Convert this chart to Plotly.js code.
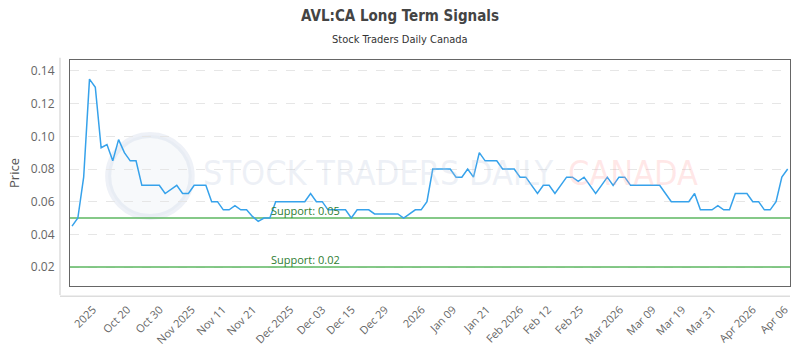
<!DOCTYPE html>
<html>
<head>
<meta charset="utf-8">
<script src="https://cdn.plot.ly/plotly-3.0.1.min.js"></script>
<style>
html,body{margin:0;padding:0;background:#fff;}
#chart{width:800px;height:350px;}
</style>
</head>
<body>
<div id="chart"></div>
<script>
// Price series (one value per trading session)
const prices = [
  0.045, 0.05, 0.075, 0.135, 0.13, 0.093, 0.095, 0.085, 0.098, 0.09,
  0.085, 0.085, 0.07, 0.07, 0.07, 0.07, 0.065, 0.0675, 0.07, 0.065,
  0.065, 0.07, 0.07, 0.07, 0.06, 0.06, 0.055, 0.055, 0.0575, 0.055,
  0.055, 0.051, 0.048, 0.05, 0.05, 0.06, 0.06, 0.06, 0.06, 0.06,
  0.06, 0.065, 0.06, 0.06, 0.055, 0.055, 0.055, 0.055, 0.05, 0.055,
  0.055, 0.055, 0.0525, 0.0525, 0.0525, 0.0525, 0.0525, 0.05, 0.0525, 0.055,
  0.055, 0.06, 0.08, 0.08, 0.08, 0.08, 0.075, 0.075, 0.08, 0.075,
  0.09, 0.085, 0.085, 0.085, 0.08, 0.08, 0.08, 0.075, 0.075, 0.07,
  0.065, 0.07, 0.07, 0.065, 0.07, 0.075, 0.075, 0.0725, 0.075, 0.07,
  0.065, 0.07, 0.075, 0.07, 0.075, 0.075, 0.07, 0.07, 0.07, 0.07,
  0.07, 0.07, 0.065, 0.06, 0.06, 0.06, 0.06, 0.065, 0.055, 0.055,
  0.055, 0.0575, 0.055, 0.055, 0.065, 0.065, 0.065, 0.06, 0.06, 0.055,
  0.055, 0.06, 0.075, 0.08
];
const sessions = prices.map((_, i) => i);

// Tick labels and their session positions
const tickLabels = ["2025","Oct 20","Oct 30","Nov 2025","Nov 11","Nov 21","Dec 2025","Dec 03","Dec 15","Dec 29","2026","Jan 09","Jan 21","Feb 2026","Feb 12","Feb 25","Mar 2026","Mar 09","Mar 19","Mar 31","Apr 2026","Apr 06"];
const tickPositions = [3.6, 9.5, 15.1, 20.6, 25.9, 31.1, 37.5, 43, 48.1, 53.8, 60.1, 65.5, 71.3, 77, 81.8, 87.3, 94.2, 99.8, 104.9, 110.1, 117, 122.5];

// Support levels
const supportLevels = [0.05, 0.02];
const supportLabels = ["Support: 0.05", "Support: 0.02"];

const yTicks = [0.02, 0.04, 0.06, 0.08, 0.10, 0.12, 0.14];
const yTickText = ["0.02", "0.04", "0.06", "0.08", "0.10", "0.12", "0.14"];

const condensed = "Liberation Sans Narrow, DejaVu Sans Condensed, sans-serif";
const tickFont = {family: "Open Sans, sans-serif", size: 11, color: "#666"};

const traces = [];
supportLevels.forEach((lv) => {
  traces.push({
    x: [sessions[0] - 0.35, sessions[sessions.length - 1] + 0.4],
    y: [lv, lv],
    mode: "lines",
    line: {color: "rgba(102,187,106,0.8)", width: 2},
    hoverinfo: "skip",
    showlegend: false
  });
});
traces.push({
  x: sessions,
  y: prices,
  mode: "lines",
  line: {color: "#36a2eb", width: 1.5},
  showlegend: false
});

const annotations = [
  {text: "Stock Traders Daily Canada", xref: "paper", yref: "paper", x: 0.4583, y: 1, yshift: 21, xanchor: "center", yanchor: "middle", showarrow: false,
   font: {family: condensed, size: 11, color: "#333"}},
  {text: "STOCK TRADERS DAILY", xref: "x", yref: "y", x: 52.6, y: 0.0773, xanchor: "center", yanchor: "middle", showarrow: false,
   font: {family: condensed, size: 34, color: "rgba(185,198,220,0.25)"}},
  {text: "CANADA", xref: "x", yref: "y", x: 96.4, y: 0.0773, xanchor: "center", yanchor: "middle", showarrow: false,
   font: {family: condensed, size: 34, color: "rgba(255,160,160,0.25)"}}
];
supportLevels.forEach((lv, k) => {
  annotations.push({
    text: supportLabels[k], xref: "x", yref: "y", x: 33.8, y: lv, xanchor: "left", yanchor: "bottom", yshift: -2,
    showarrow: false, font: {family: "Open Sans, sans-serif", size: 11, color: "#2e7d32"}
  });
});

const layout = {
  width: 800, height: 350,
  margin: {l: 70, r: 10, t: 60, b: 64},
  paper_bgcolor: "#fff", plot_bgcolor: "#fff",
  title: {text: "AVL:CA Long Term Signals", x: 0.5, xanchor: "center", y: 0.955, yanchor: "middle",
          font: {family: condensed, size: 15, color: "#444", weight: "bold"}},
  xaxis: {
    range: [-0.35, 123.4],
    tickmode: "array", tickvals: tickPositions, ticktext: tickLabels,
    tickangle: -45, tickfont: tickFont,
    ticks: "outside", ticklen: 12, tickcolor: "rgba(0,0,0,0)",
    showgrid: false, zeroline: false,
    showline: true, linecolor: "#666", linewidth: 1, mirror: true
  },
  yaxis: {
    range: [0.0084, 0.1467],
    tickmode: "array", tickvals: yTicks, ticktext: yTickText,
    tickfont: {family: "Open Sans, sans-serif", size: 12, color: "#666"},
    ticks: "outside", ticklen: 12, tickcolor: "rgba(0,0,0,0)",
    showgrid: true, gridcolor: "#e6e6e6", griddash: "dash", gridwidth: 1,
    zeroline: false,
    showline: true, linecolor: "#666", linewidth: 1, mirror: true,
    title: {text: "Price", font: {family: "Open Sans, sans-serif", size: 13, color: "#555"}, standoff: 8}
  },
  shapes: [
    {type: "line", xref: "paper", yref: "paper", x0: -0.0139, x1: -0.0139, y0: 1.01, y1: -0.04, line: {color: "#ccc", width: 1}},
    {type: "line", xref: "paper", yref: "paper", x0: -0.0139, x1: 1.0, y0: -0.045, y1: -0.045, line: {color: "#ccc", width: 1}},
    {type: "circle", xref: "paper", yref: "paper", x0: 0.053, x1: 0.169, y0: 0.305, y1: 0.668, fillcolor: "rgba(200,210,230,0.14)", line: {color: "rgba(200,210,230,0.3)", width: 6}, layer: "below"}
  ],
  annotations: annotations,
  hovermode: false
};

Plotly.newPlot("chart", traces, layout, {displayModeBar: false, staticPlot: true});
</script>
</body>
</html>
